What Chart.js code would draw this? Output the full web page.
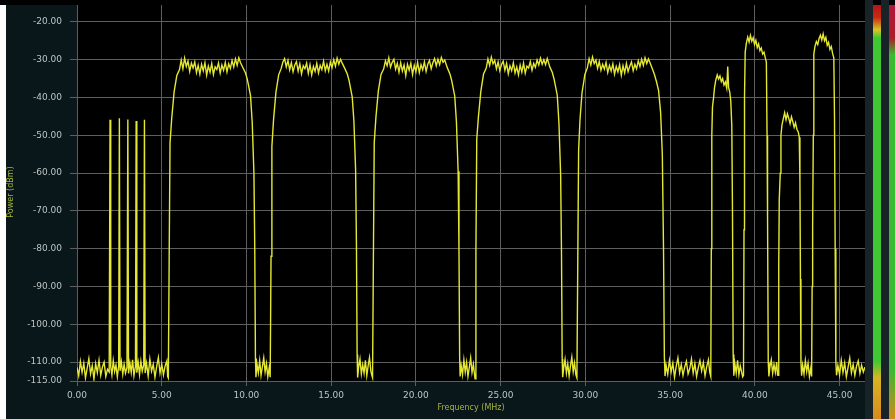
<!DOCTYPE html>
<html>
<head>
<meta charset="utf-8">
<script src="https://cdn.jsdelivr.net/npm/chart.js@4.4.0/dist/chart.umd.min.js"></script>
<style>
  html, body { margin: 0; padding: 0; background: #0a171a; }
  #wrap { width: 895px; height: 419px; }
</style>
</head>
<body>
<div id="wrap"><canvas id="spectrum" width="895" height="419"></canvas></div>
<script>
// axis ticks
const freqTicks = [0, 5, 10, 15, 20, 25, 30, 35, 40, 45];
const powerTicks = [-115, -110, -100, -90, -80, -70, -60, -50, -40, -30, -20, -15];

// trace as [MHz, dBm]
const floorLow = [
    [0.00, -111.4], [0.10, -113.6], [0.20, -109.8], [0.30, -112.7], [0.40, -110.3], [0.50, -114.2],
    [0.60, -111.6], [0.70, -109.1], [0.80, -113.1], [0.90, -110.9], [1.00, -114.5], [1.10, -110.4],
    [1.20, -112.8], [1.30, -109.5], [1.40, -113.5], [1.50, -111.3], [1.60, -110.0], [1.70, -113.8],
    [1.80, -111.9], [1.90, -112.6],
];
const carriers = [
    [1.95, -45.9], [1.99, -111.2], [2.06, -113.4], [2.14, -109.6], [2.22, -112.5], [2.30, -110.8],
    [2.38, -113.9], [2.46, -111.0], [2.50, -45.5], [2.54, -112.3], [2.62, -109.9], [2.70, -113.2],
    [2.78, -110.6], [2.86, -112.9], [2.95, -111.4], [3.00, -45.8], [3.04, -113.0], [3.12, -110.2],
    [3.20, -112.7], [3.28, -109.4], [3.36, -113.6], [3.45, -111.1], [3.49, -46.2], [3.53, -112.8],
    [3.61, -110.1], [3.69, -113.3], [3.77, -109.8], [3.85, -112.4], [3.94, -110.7], [3.98, -45.9],
    [4.02, -112.9],
];
const floorMid = [
    [4.10, -110.3], [4.20, -113.7], [4.30, -109.2], [4.40, -112.4], [4.50, -110.6], [4.60, -114.0],
    [4.70, -111.2], [4.80, -108.8], [4.90, -112.9], [5.00, -110.5], [5.10, -113.4], [5.20, -111.0],
    [5.30, -109.7], [5.35, -113.8],
];
const channel1 = [
    [5.39, -114.2], [5.44, -82], [5.49, -52], [5.59, -45.5], [5.73, -38.5], [5.89, -34.2], [6.05, -32.6],
    [6.15, -30.1], [6.25, -32.4], [6.35, -29.6], [6.45, -31.8], [6.55, -30.4], [6.65, -33.1], [6.75, -30.9],
    [6.85, -32.2], [6.95, -30.6], [7.05, -33.4], [7.15, -31.5], [7.25, -33.8], [7.35, -31.2], [7.45, -32.9],
    [7.55, -30.8], [7.65, -34.1], [7.75, -31.7], [7.85, -33.3], [7.95, -31.0], [8.05, -33.9], [8.15, -31.9],
    [8.25, -32.6], [8.35, -30.9], [8.45, -33.5], [8.55, -31.4], [8.65, -32.8], [8.75, -30.7], [8.85, -33.2],
    [8.95, -31.1], [9.05, -32.3], [9.15, -30.2], [9.25, -31.9], [9.35, -29.8], [9.45, -31.5], [9.55, -29.5],
    [9.65, -30.8], [9.80, -32.2], [9.95, -33.6], [10.05, -35.2], [10.24, -39.5], [10.34, -46.6],
    [10.44, -60], [10.49, -80], [10.53, -109], [10.56, -114.0],
];
const gap1 = [
    [10.62, -110.5], [10.70, -112.8], [10.78, -109.6], [10.86, -113.5], [10.94, -111.2], [11.02, -108.9],
    [11.10, -112.6], [11.18, -110.4], [11.26, -113.9], [11.34, -111.5],
];
const channel2 = [
    [11.40, -114.0], [11.45, -82], [11.50, -53], [11.60, -45.8], [11.74, -38.6], [11.90, -34.0], [12.05, -32.3],
    [12.15, -30.6], [12.25, -29.7], [12.35, -31.9], [12.45, -30.2], [12.55, -32.7], [12.65, -30.8], [12.75, -33.2],
    [12.85, -31.4], [12.95, -30.5], [13.05, -33.0], [13.15, -31.1], [13.25, -33.7], [13.35, -31.6], [13.45, -32.4],
    [13.55, -30.9], [13.65, -33.6], [13.75, -31.3], [13.85, -34.0], [13.95, -31.8], [14.05, -33.1], [14.15, -31.0],
    [14.25, -33.5], [14.35, -31.5], [14.45, -32.6], [14.55, -30.4], [14.65, -32.9], [14.75, -31.2], [14.85, -33.0],
    [14.95, -30.6], [15.05, -32.1], [15.15, -30.0], [15.25, -31.7], [15.35, -29.6], [15.45, -31.2], [15.55, -29.9],
    [15.65, -30.9], [15.80, -32.3], [15.95, -33.8], [16.05, -35.4], [16.24, -39.8], [16.34, -46.2],
    [16.44, -59], [16.49, -79], [16.53, -108], [16.56, -114.1],
];
const gap2 = [
    [16.62, -111.3], [16.70, -109.2], [16.78, -113.1], [16.86, -110.7], [16.94, -112.9], [17.02, -109.5],
    [17.10, -113.6], [17.18, -111.0], [17.26, -108.8], [17.34, -112.4], [17.40, -113.5],
];
const channel3 = [
    [17.44, -114.1], [17.49, -83], [17.54, -52], [17.64, -45.2], [17.78, -38.3], [17.94, -33.9], [18.10, -32.4],
    [18.20, -30.3], [18.30, -31.6], [18.40, -29.5], [18.50, -32.0], [18.60, -30.7], [18.70, -29.9], [18.80, -32.5],
    [18.90, -31.0], [19.00, -33.3], [19.10, -30.8], [19.20, -33.0], [19.30, -31.4], [19.40, -34.2], [19.50, -31.2],
    [19.60, -32.8], [19.70, -30.9], [19.80, -33.9], [19.90, -31.5], [20.00, -33.2], [20.10, -30.7], [20.20, -33.4],
    [20.30, -31.3], [20.40, -32.7], [20.50, -30.6], [20.60, -33.1], [20.70, -31.2], [20.80, -30.2], [20.90, -32.4],
    [21.00, -30.8], [21.10, -29.7], [21.20, -31.6], [21.30, -29.9], [21.40, -31.3], [21.50, -29.4], [21.60, -30.7],
    [21.70, -30.1], [21.85, -32.1], [22.00, -33.7], [22.10, -35.3], [22.29, -39.6], [22.39, -46.4],
    [22.49, -59.5], [22.54, -80], [22.58, -108.5], [22.61, -113.8],
];
const gap3 = [
    [22.67, -110.9], [22.75, -113.3], [22.83, -109.4], [22.91, -112.6], [22.99, -110.1], [23.07, -113.8],
    [23.15, -111.4], [23.23, -108.9], [23.31, -112.7], [23.39, -110.6], [23.45, -113.0],
];
const channel4 = [
    [23.49, -114.4], [23.54, -81], [23.59, -51], [23.69, -45.0], [23.83, -38.4], [23.99, -33.8], [24.15, -32.2],
    [24.25, -29.8], [24.35, -31.5], [24.45, -29.3], [24.55, -31.1], [24.65, -30.2], [24.75, -32.4], [24.85, -30.6],
    [24.95, -32.9], [25.05, -31.3], [25.15, -30.4], [25.25, -32.8], [25.35, -31.0], [25.45, -33.7], [25.55, -31.6],
    [25.65, -32.9], [25.75, -30.8], [25.85, -33.5], [25.95, -31.9], [26.05, -34.0], [26.15, -31.4], [26.25, -33.3],
    [26.35, -30.9], [26.45, -33.6], [26.55, -31.7], [26.65, -32.2], [26.75, -30.5], [26.85, -32.8], [26.95, -31.0],
    [27.05, -32.0], [27.15, -30.1], [27.25, -31.4], [27.35, -29.6], [27.45, -31.2], [27.55, -30.0], [27.65, -31.3],
    [27.75, -29.7], [27.90, -31.9], [28.05, -33.4], [28.15, -35.1], [28.34, -39.4], [28.44, -46.8],
    [28.54, -60.5], [28.59, -81], [28.63, -109.2], [28.66, -114.0],
];
const gap4 = [
    [28.72, -111.6], [28.80, -109.3], [28.88, -112.9], [28.96, -110.5], [29.04, -113.7], [29.12, -111.0],
    [29.20, -108.7], [29.28, -112.5], [29.36, -110.2], [29.44, -113.4],
];
const channel5 = [
    [29.50, -114.2], [29.55, -84], [29.60, -54], [29.68, -46.0], [29.80, -38.8], [29.97, -33.9], [30.12, -32.1],
    [30.22, -29.7], [30.32, -31.4], [30.42, -29.3], [30.52, -31.0], [30.62, -30.1], [30.72, -32.3], [30.82, -30.5],
    [30.92, -32.8], [31.02, -31.2], [31.12, -32.5], [31.22, -30.7], [31.32, -33.4], [31.42, -31.5], [31.52, -33.0],
    [31.62, -31.1], [31.72, -33.8], [31.82, -31.8], [31.92, -33.2], [32.02, -31.3], [32.12, -34.1], [32.22, -31.6],
    [32.32, -33.5], [32.42, -31.0], [32.52, -33.1], [32.62, -31.7], [32.72, -30.6], [32.82, -32.9], [32.92, -31.2],
    [33.02, -32.4], [33.12, -30.3], [33.22, -31.8], [33.32, -29.9], [33.42, -31.5], [33.52, -29.5], [33.62, -31.0],
    [33.72, -29.8], [33.82, -30.9], [33.95, -32.4], [34.08, -34.0], [34.20, -35.9], [34.32, -38.2],
    [34.44, -44.0], [34.54, -55.0], [34.61, -80], [34.66, -108.6], [34.70, -113.7],
];
const floorHigh = [
    [34.76, -110.8], [34.86, -113.2], [34.96, -109.5], [35.06, -112.6], [35.16, -110.3], [35.26, -114.0],
    [35.36, -111.1], [35.46, -108.9], [35.56, -112.8], [35.66, -110.6], [35.76, -113.5], [35.86, -111.3],
    [35.96, -109.8], [36.06, -113.1], [36.16, -111.7], [36.26, -109.2], [36.36, -112.9], [36.46, -110.4],
    [36.56, -113.8], [36.66, -111.5], [36.76, -109.6], [36.86, -112.3], [36.96, -110.1], [37.06, -113.6],
    [37.16, -111.2], [37.26, -109.4], [37.34, -112.7],
];
const burstA = [
    [37.40, -113.8], [37.43, -80], [37.46, -50], [37.50, -42.5], [37.56, -40.2], [37.62, -37.4], [37.70, -35.3],
    [37.78, -34.0], [37.86, -35.1], [37.94, -34.3], [38.02, -35.8], [38.10, -35.0], [38.18, -36.7], [38.26, -35.9],
    [38.34, -37.5], [38.40, -31.8], [38.45, -37.3], [38.52, -38.6], [38.58, -41.0], [38.64, -47.5], [38.68, -70],
    [38.72, -108], [38.76, -113.6],
];
const gapA = [
    [38.82, -110.4], [38.90, -112.9], [38.98, -109.5], [39.06, -113.3], [39.14, -111.0], [39.22, -112.6], [39.28, -113.9],
];
const burstB = [
    [39.33, -113.5], [39.36, -75], [39.39, -40], [39.43, -28.0], [39.50, -25.6], [39.58, -24.0], [39.66, -25.3],
    [39.74, -23.6], [39.82, -25.1], [39.90, -24.2], [39.98, -26.0], [40.06, -24.9], [40.14, -26.8], [40.22, -25.8],
    [40.30, -27.6], [40.38, -26.9], [40.46, -28.5], [40.54, -28.0], [40.62, -29.6], [40.68, -30.6], [40.72, -50],
    [40.75, -72], [40.79, -110], [40.83, -113.8],
];
const gapB = [
    [40.89, -111.2], [40.97, -109.4], [41.05, -113.0], [41.13, -110.6], [41.21, -112.7], [41.29, -110.0], [41.34, -113.4],
];
const burstC = [
    [41.38, -113.5], [41.41, -85], [41.44, -67], [41.50, -60], [41.54, -50], [41.60, -47.3], [41.68, -45.6],
    [41.76, -44.0], [41.84, -45.9], [41.92, -44.3], [42.00, -45.5], [42.08, -46.9], [42.16, -45.1], [42.24, -46.4],
    [42.32, -47.9], [42.40, -46.7], [42.48, -48.4], [42.56, -49.1], [42.62, -50.5], [42.66, -62], [42.69, -88],
    [42.72, -110], [42.76, -113.6],
];
const gapC = [
    [42.82, -110.8], [42.90, -113.1], [42.98, -109.6], [43.06, -112.5], [43.14, -110.3], [43.22, -113.8], [43.30, -111.6],
];
const burstD = [
    [43.35, -113.8], [43.38, -90], [43.41, -74], [43.45, -50], [43.48, -28.5], [43.55, -26.4], [43.63, -25.2],
    [43.71, -26.0], [43.79, -24.4], [43.87, -23.5], [43.95, -24.8], [44.03, -23.2], [44.11, -25.0], [44.19, -24.1],
    [44.27, -26.2], [44.35, -25.4], [44.43, -27.3], [44.51, -26.5], [44.59, -28.4], [44.66, -29.5], [44.70, -45],
    [44.74, -80], [44.78, -110], [44.82, -113.5],
];
const floorTail = [
    [44.90, -110.9], [45.00, -113.4], [45.10, -109.5], [45.20, -112.7], [45.30, -110.2], [45.40, -113.9],
    [45.50, -111.4], [45.60, -108.9], [45.70, -112.8], [45.80, -110.6], [45.90, -113.5], [46.00, -111.1],
    [46.10, -109.7], [46.20, -113.0], [46.30, -110.8], [46.40, -112.6], [46.50, -111.3],
];

const trace = [
    floorLow, carriers, floorMid, channel1, gap1, channel2, gap2, channel3, gap3, channel4, gap4,
    channel5, floorHigh, burstA, gapA, burstB, gapB, burstC, gapC, burstD, floorTail,
].flat().map(([x, y]) => ({ x, y }));

const GRID = '#5e5e5e';
const LABEL = '#bcc4c4';
const TITLE = '#a6b43a';

// screen furniture: dark surround, black plot, level meters on the right
const analyzerFrame = {
    id: 'analyzerFrame',
    beforeDraw(chart) {
        const { ctx, chartArea: a } = chart;
        ctx.save();
        ctx.fillStyle = '#0a171a';
        ctx.fillRect(0, 0, chart.width, chart.height);
        ctx.fillStyle = '#000';
        ctx.fillRect(a.left, a.top, a.right - a.left, a.bottom - a.top);
        ctx.restore();
    },
    afterDraw(chart) {
        const { ctx } = chart;
        const h = chart.height;
        ctx.save();
        ctx.fillStyle = '#ffffff';
        ctx.fillRect(0, 5, 6, h - 5);
        ctx.fillStyle = '#000';
        ctx.fillRect(0, 0, chart.width, 5);

        ctx.fillStyle = '#172326';
        ctx.fillRect(865, 0, 8, h);
        ctx.fillRect(881, 0, 8, h);

        const g1 = ctx.createLinearGradient(0, 5, 0, h);
        g1.addColorStop(0, '#b31616');
        g1.addColorStop(0.03, '#c82a14');
        g1.addColorStop(0.06, '#d8c624');
        g1.addColorStop(0.08, '#3fc832');
        g1.addColorStop(0.86, '#3fc832');
        g1.addColorStop(0.9, '#d8b424');
        g1.addColorStop(1, '#d98a1e');
        ctx.fillStyle = g1;
        ctx.fillRect(873, 5, 8, h - 5);

        const g2 = ctx.createLinearGradient(0, 5, 0, h);
        g2.addColorStop(0, '#b0183a');
        g2.addColorStop(0.08, '#a8202a');
        g2.addColorStop(0.12, '#3cb832');
        g2.addColorStop(0.88, '#3cb832');
        g2.addColorStop(1, '#d08a1e');
        ctx.fillStyle = g2;
        ctx.fillRect(889, 5, 6, h - 5);
        ctx.restore();
    },
};

new Chart(document.getElementById('spectrum'), {
    type: 'line',
    data: {
        datasets: [{
            label: 'Trace',
            data: trace,
            borderColor: '#e4e832',
            borderWidth: 1.4,
            pointRadius: 0,
            tension: 0,
            fill: false,
        }],
    },
    options: {
        responsive: false,
        animation: false,
        events: [],
        layout: { padding: { top: 3, right: 30, left: 0, bottom: 0 } },
        plugins: {
            legend: { display: false },
            tooltip: { enabled: false },
        },
        scales: {
            x: {
                type: 'linear',
                min: 0,
                max: 46.5,
                afterBuildTicks: s => { s.ticks = freqTicks.map(v => ({ value: v })); },
                afterFit: s => {
                    s.height = 38;
                    s.paddingLeft = 0;
                    s.paddingRight = 0;
                },
                ticks: {
                    autoSkip: false,
                    maxRotation: 0,
                    padding: 4,
                    color: LABEL,
                    font: { family: 'DejaVu Sans', size: 9 },
                    callback: v => Number(v).toFixed(2),
                },
                grid: { color: GRID, tickLength: 5, tickColor: GRID },
                border: { color: GRID },
                title: {
                    display: true,
                    text: 'Frequency (MHz)',
                    color: TITLE,
                    font: { family: 'DejaVu Sans', size: 8 },
                    padding: { top: 0, bottom: 6 },
                },
            },
            y: {
                min: -115,
                max: -15,
                afterBuildTicks: s => { s.ticks = powerTicks.map(v => ({ value: v })); },
                afterFit: s => {
                    s.width = 77;
                    s.paddingTop = 0;
                    s.paddingBottom = 0;
                },
                ticks: {
                    autoSkip: false,
                    padding: 8,
                    color: LABEL,
                    font: { family: 'DejaVu Sans', size: 9 },
                    callback: v => Number(v).toFixed(2),
                },
                grid: { color: GRID, tickLength: 7, tickColor: GRID },
                border: { color: GRID },
                title: {
                    display: true,
                    text: 'Power (dBm)',
                    color: TITLE,
                    font: { family: 'DejaVu Sans', size: 8 },
                    padding: { top: 6, bottom: 0 },
                },
            },
        },
    },
    plugins: [analyzerFrame],
});
</script>
</body>
</html>
